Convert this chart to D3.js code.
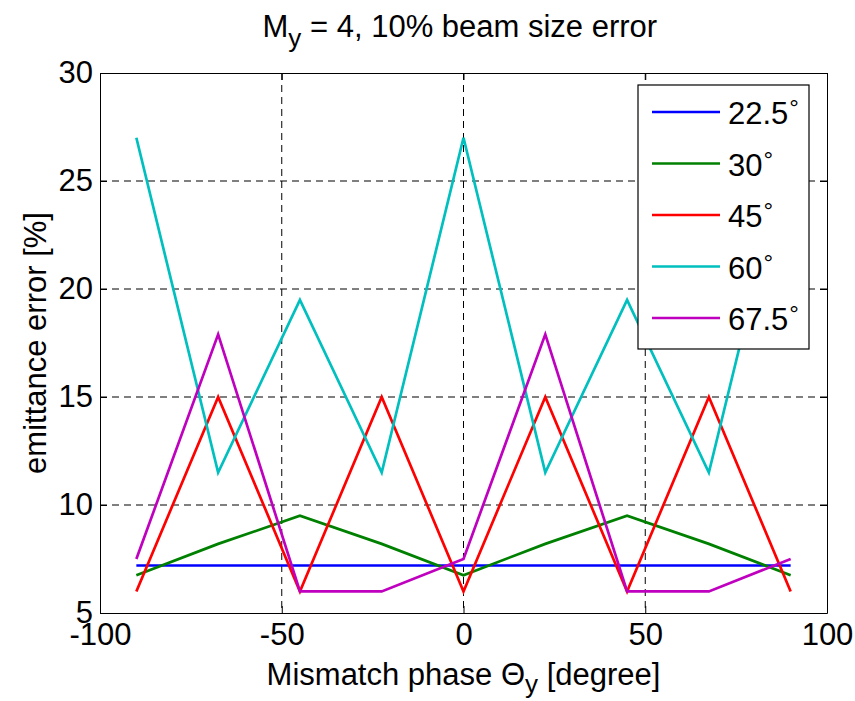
<!DOCTYPE html>
<html>
<head>
<meta charset="utf-8">
<script src="https://cdn.jsdelivr.net/npm/d3@7"></script>
<style>
  body { margin: 0; background: #fff; }
  text { font-family: "Liberation Sans", Arial, sans-serif; fill: #000; }
  .axis path, .axis line { stroke: #000; stroke-width: 1px; }
  .axis text { font-size: 31px; font-family: "Liberation Sans", Arial, sans-serif; }
  .grid line { stroke: #000; stroke-width: 1px; stroke-dasharray: 7,5; }
</style>
</head>
<body>
<div class="chart"></div>
<script>
// phase points (degree) and emittance error [%] for each lattice phase advance
var phase = [-90, -67.5, -45, -22.5, 0, 22.5, 45, 67.5, 90];
var names = ["22.5", "30", "45", "60", "67.5"];
var colors = ["#0000ff", "#008000", "#ff0000", "#00bfbf", "#bf00bf"];
var err225 = [7.2, 7.2, 7.2, 7.2, 7.2, 7.2, 7.2, 7.2, 7.2];
var err30  = [6.75, 8.2, 9.5, 8.2, 6.75, 8.2, 9.5, 8.2, 6.75];
var err45  = [6, 15, 6, 15, 6, 15, 6, 15, 6];
var err60  = [27, 11.5, 19.5, 11.5, 27, 11.5, 19.5, 11.5, 27];
var err675 = [7.5, 17.9, 6, 6, 7.5, 17.9, 6, 6, 7.5];
var xTicks = [-100, -50, 0, 50, 100];
var yTicks = [5, 10, 15, 20, 25, 30];

var series = [err225, err30, err45, err60, err675];

var margin = { top: 73, right: 28, bottom: 88, left: 100 },
    width = 855 - margin.left - margin.right,
    height = 701 - margin.top - margin.bottom;

var x = d3.scaleLinear().domain([-100, 100]).range([0, width]);
var y = d3.scaleLinear().domain([5, 30]).range([height, 0]);

// plain hyphen for negatives, like the original
var plain = function(d) { return String(d); };

var svg = d3.select(".chart").append("svg")
    .attr("width", 855)
    .attr("height", 701)
    .append("g")
    .attr("transform", "translate(" + margin.left + "," + margin.top + ")");

// dashed grid
svg.append("g").attr("class", "grid")
   .selectAll("line").data(xTicks.slice(1, -1)).enter().append("line")
   .attr("x1", function(d) { return x(d); })
   .attr("x2", function(d) { return x(d); })
   .attr("y1", 0).attr("y2", height);

svg.append("g").attr("class", "grid")
   .selectAll("line").data(yTicks.slice(1, -1)).enter().append("line")
   .attr("y1", function(d) { return y(d); })
   .attr("y2", function(d) { return y(d); })
   .attr("x1", 0).attr("x2", width);

// data lines
var line = d3.line()
    .x(function(d, i) { return x(phase[i]); })
    .y(function(d) { return y(d); });

svg.selectAll(".line").data(series).enter().append("path")
   .attr("class", "line")
   .attr("fill", "none")
   .attr("stroke", function(d, i) { return colors[i]; })
   .attr("stroke-width", 2.7)
   .attr("d", line);

// axes, ticks pointing inward on all sides
svg.append("g").attr("class", "axis")
   .attr("transform", "translate(0," + height + ")")
   .call(d3.axisBottom(x).tickValues(xTicks).tickSize(-7).tickSizeOuter(0).tickPadding(10).tickFormat(plain));

svg.append("g").attr("class", "axis")
   .call(d3.axisTop(x).tickValues(xTicks).tickSize(-7).tickSizeOuter(0).tickFormat(""));

svg.append("g").attr("class", "axis")
   .call(d3.axisLeft(y).tickValues(yTicks).tickSize(-7).tickSizeOuter(0).tickPadding(7).tickFormat(plain));

svg.append("g").attr("class", "axis")
   .attr("transform", "translate(" + width + ",0)")
   .call(d3.axisRight(y).tickValues(yTicks).tickSize(-7).tickSizeOuter(0).tickFormat(""));

svg.selectAll(".axis .tick text").style("fill", "#000");

// title
var title = svg.append("text")
   .attr("x", x(-1))
   .attr("y", -36)
   .attr("text-anchor", "middle")
   .style("font-size", "31px");
title.append("tspan").text("M");
title.append("tspan").attr("dy", 10).style("font-size", "26px").text("y");
title.append("tspan").attr("dy", -10).text(" = 4, 10% beam size error");

// axis labels
var xlab = svg.append("text")
   .attr("x", x(0))
   .attr("y", height + 72)
   .attr("text-anchor", "middle")
   .style("font-size", "31px");
xlab.append("tspan").text("Mismatch phase \u0398");
xlab.append("tspan").attr("dy", 8).style("font-size", "26px").text("y");
xlab.append("tspan").attr("dy", -8).text(" [degree]");

svg.append("text")
   .attr("transform", "rotate(-90)")
   .attr("x", -(y(17.5)))
   .attr("y", -54)
   .attr("text-anchor", "middle")
   .style("font-size", "31px")
   .text("emittance error [%]");

// legend
var legend = svg.append("g")
   .attr("transform", "translate(" + (638 - margin.left) + "," + (85 - margin.top) + ")");

legend.append("rect")
   .attr("width", 171).attr("height", 264)
   .attr("fill", "#fff").attr("stroke", "#000").attr("stroke-width", 1.2);

var item = legend.selectAll(".item").data(names).enter().append("g")
   .attr("class", "item")
   .attr("transform", function(d, i) { return "translate(0," + (27 + i * 51.5) + ")"; });

item.append("line")
   .attr("x1", 14).attr("x2", 82)
   .attr("stroke", function(d, i) { return colors[i]; })
   .attr("stroke-width", 2.7);

var lt = item.append("text")
   .attr("x", 90)
   .attr("y", 12)
   .style("font-size", "31px");
lt.append("tspan").text(function(d) { return d; });
lt.append("tspan").attr("dx", 1).attr("dy", -8).style("font-size", "24px").text("\u00b0");
</script>
</body>
</html>
